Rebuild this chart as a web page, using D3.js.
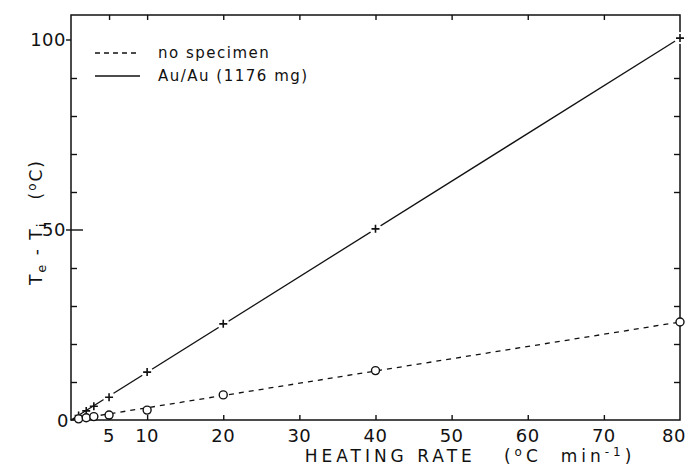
<!DOCTYPE html>
<html>
<head>
<meta charset="utf-8">
<script src="https://cdn.jsdelivr.net/npm/d3@7"></script>
<style>
  body { margin: 0; background: #fff; }
  text { font-family: "DejaVu Sans", sans-serif; fill: #111; }
</style>
</head>
<body>
<svg id="chart" width="687" height="471"></svg>
<script>
/* Data */
const rates = [1, 2, 3, 5, 10, 20, 40, 80];
const auValues = [1.2, 2.4, 3.6, 6, 12.6, 25.3, 50.3, 100.5];
const blankRates = [1, 2, 3, 5, 10, 20, 40, 80];
const blankValues = [0.3, 0.6, 0.9, 1.3, 2.6, 6.6, 13, 25.8];
const xTicks = [5, 10, 20, 30, 40, 50, 60, 70, 80];
const yMinor = [10, 20, 30, 40, 60, 70, 80, 90];
const yLabels = [0, 50, 100];
const legendLabels = ['no specimen', 'Au/Au  (1176 mg)'];

/* SVG */
const svg = d3.select('svg');
const frame = { left: 71, right: 680, top: 15, bottom: 420 };

const x = d3.scaleLinear().domain([0, 80]).range([frame.left, frame.right]);
const y = d3.scaleLinear().domain([0, 100]).range([frame.bottom, 40]);

const g = svg.append('g');

/* Frame */
g.append('rect')
  .attr('x', frame.left)
  .attr('y', frame.top)
  .attr('width', frame.right - frame.left)
  .attr('height', frame.bottom - frame.top)
  .attr('fill', 'none')
  .attr('stroke', '#111')
  .attr('stroke-width', 1.5);

/* Axes (ticks inward, labels drawn separately) */
const bottomAxis = d3.axisTop(x).tickValues(xTicks.slice(0, -1)).tickSize(5).tickFormat('');
const topAxis = d3.axisBottom(x).tickValues(xTicks.slice(0, -1)).tickSize(5).tickFormat('');
const leftAxis = d3.axisRight(y).tickValues(yMinor).tickSize(6).tickFormat('');
const rightAxis = d3.axisLeft(y).tickValues(yMinor).tickSize(6).tickFormat('');

g.append('g').attr('transform', `translate(0,${frame.bottom})`).call(bottomAxis);
g.append('g').attr('transform', `translate(0,${frame.top})`).call(topAxis);
g.append('g').attr('transform', `translate(${frame.left},0)`).call(leftAxis);
g.append('g').attr('transform', `translate(${frame.right},0)`).call(rightAxis);
g.selectAll('.domain').remove();
g.selectAll('.tick line').attr('stroke', '#111').attr('stroke-width', 1.4);

// labelled y ticks (50 crosses the axis, 100 sits outside)
g.append('line')
  .attr('x1', frame.left - 5).attr('x2', frame.left + 12)
  .attr('y1', y(50)).attr('y2', y(50))
  .attr('stroke', '#111').attr('stroke-width', 1.4);
g.append('line')
  .attr('x1', frame.left - 5).attr('x2', frame.left)
  .attr('y1', y(100)).attr('y2', y(100))
  .attr('stroke', '#111').attr('stroke-width', 1.4);

/* Tick labels */
g.selectAll('.xlab')
  .data([0].concat(xTicks))
  .enter().append('text')
  .attr('class', 'xlab')
  .attr('x', d => d === 0 ? x(0) - 8 : d === 80 ? 686 : x(d))
  .attr('y', d => d === 0 ? frame.bottom + 7 : frame.bottom + 22)
  .attr('text-anchor', d => d === 80 ? 'end' : 'middle')
  .attr('font-size', 18)
  .attr('letter-spacing', 0.5)
  .text(d => d);

g.selectAll('.ylab')
  .data(yLabels.slice(1))
  .enter().append('text')
  .attr('x', frame.left - 5)
  .attr('y', d => y(d) + 6)
  .attr('text-anchor', 'end')
  .attr('font-size', 18)
  .attr('letter-spacing', 0.5)
  .text(d => d);

/* Axis titles */
g.append('text')
  .attr('x', 470)
  .attr('y', 462)
  .attr('text-anchor', 'middle')
  .attr('font-size', 17)
  .attr('letter-spacing', 4)
  .html('HEATING RATE&#160;&#160;&#160;(<tspan dy="-6" font-size="12">o</tspan><tspan dy="6">C&#160;&#160;min</tspan><tspan dy="-6" font-size="12">-1</tspan><tspan dy="6">)</tspan>');

g.append('text')
  .attr('transform', `translate(42,222) rotate(-90)`)
  .attr('text-anchor', 'middle')
  .attr('font-size', 17)
  .attr('letter-spacing', 2)
  .html('T<tspan dy="4" font-size="13">e</tspan><tspan dy="-4"> - T</tspan><tspan dy="4" font-size="13">i</tspan><tspan dy="-4">&#160;&#160;&#160;(</tspan><tspan dy="-6" font-size="12">o</tspan><tspan dy="6">C)</tspan>');

/* Fitted lines through origin */
function slope(xs, ys) {
  const sxy = d3.sum(xs, (v, i) => v * ys[i]);
  const sxx = d3.sum(xs, v => v * v);
  return sxy / sxx;
}
const kAu = slope(rates, auValues);
const kBlank = slope(blankRates, blankValues);

g.append('line')
  .attr('x1', x(0)).attr('y1', y(0))
  .attr('x2', x(80)).attr('y2', y(80 * kAu))
  .attr('stroke', '#111').attr('stroke-width', 1.3);

g.append('line')
  .attr('x1', x(0)).attr('y1', y(0))
  .attr('x2', x(80)).attr('y2', y(80 * kBlank))
  .attr('stroke', '#111').attr('stroke-width', 1.3)
  .attr('stroke-dasharray', '5,5');

/* Markers */
const plus = g.selectAll('.plus')
  .data(rates.map((r, i) => [r, auValues[i]]))
  .enter().append('g')
  .attr('transform', d => `translate(${x(d[0])},${y(d[1])})`);
plus.filter(d => d[0] > 3).append('circle').attr('r', 6).attr('fill', '#fff');
plus.append('path')
  .attr('d', 'M-4,0H4M0,-4V4')
  .attr('stroke', '#111')
  .attr('stroke-width', 1.6);

g.selectAll('.circ')
  .data(blankRates.map((r, i) => [r, blankValues[i]]))
  .enter().append('circle')
  .attr('cx', d => x(d[0]))
  .attr('cy', d => y(d[1]))
  .attr('r', 4)
  .attr('fill', '#fff')
  .attr('stroke', '#111')
  .attr('stroke-width', 1.4);

/* Legend */
const legend = g.append('g').attr('transform', 'translate(95,53)');
const legendItem = legend.selectAll('g')
  .data(legendLabels)
  .enter().append('g')
  .attr('transform', (d, i) => `translate(0,${i * 23})`);
legendItem.append('line')
  .attr('x1', 0).attr('x2', 45)
  .attr('stroke', '#111').attr('stroke-width', 1.3)
  .attr('stroke-dasharray', (d, i) => i === 0 ? '5,4' : null);
legendItem.append('text')
  .attr('x', 63)
  .attr('y', 5)
  .attr('font-size', 15)
  .attr('letter-spacing', 1.5)
  .text(d => d);
</script>
</body>
</html>
